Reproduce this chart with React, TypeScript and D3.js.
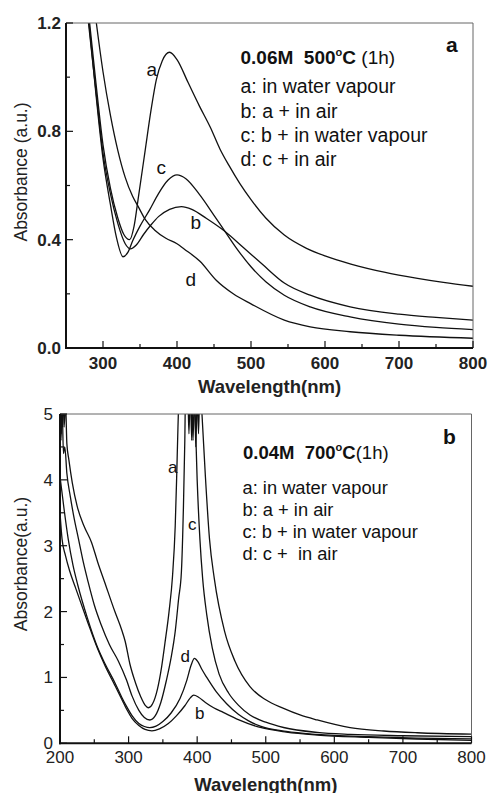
import React from "react";
import * as d3 from "d3";

// ---------- Panel a data (wavelength nm, absorbance) ----------
const aCurveA: [number, number][] = [[270,1.55],[280,1.25],[290,0.99],[300,0.75],[310,0.59],[320,0.48],[328,0.42],[336,0.40],[342,0.45],[348,0.56],[357,0.73],[365,0.88],[372,0.99],[380,1.06],[390,1.092],[400,1.065],[415,0.98],[430,0.895],[445,0.815],[458,0.735],[470,0.675],[485,0.607],[500,0.548],[520,0.48],[545,0.417],[575,0.368],[600,0.34],[635,0.31],[680,0.28],[725,0.257],[760,0.242],[800,0.228]];
const aCurveB: [number, number][] = [[270,1.5],[280,1.21],[290,0.96],[300,0.72],[310,0.57],[320,0.46],[330,0.385],[337,0.366],[345,0.38],[355,0.42],[365,0.455],[375,0.485],[390,0.512],[406,0.522],[420,0.512],[440,0.478],[465,0.43],[490,0.37],[515,0.31],[545,0.24],[580,0.195],[634,0.152],[700,0.125],[750,0.113],[800,0.103]];
const aCurveC: [number, number][] = [[270,1.55],[280,1.23],[290,0.95],[300,0.7],[310,0.53],[318,0.41],[327,0.337],[334,0.355],[340,0.395],[350,0.45],[363,0.51],[375,0.57],[388,0.62],[400,0.639],[412,0.625],[430,0.568],[450,0.49],[465,0.43],[480,0.37],[500,0.3],[520,0.245],[545,0.195],[580,0.152],[634,0.115],[700,0.088],[750,0.076],[800,0.068]];
const aCurveD: [number, number][] = [[270,1.75],[280,1.45],[291,1.2],[300,1.02],[310,0.86],[320,0.73],[330,0.63],[340,0.56],[348,0.52],[357,0.475],[370,0.435],[385,0.405],[400,0.385],[410,0.365],[431,0.32],[453,0.25],[476,0.2],[500,0.163],[545,0.103],[580,0.078],[634,0.06],[700,0.047],[800,0.036]];

// ---------- Panel b data ----------
const bCurveA: [number, number][] = [[200,5.3],[202,4.7],[204,5.4],[206,4.8],[208,5.2],[210,4.55],[213,4.3],[218,3.95],[225,3.6],[235,3.3],[246,3.05],[255,2.75],[265,2.45],[280,2.0],[290,1.72],[295,1.55],[302,1.2],[310,0.92],[318,0.7],[324,0.58],[329,0.54],[335,0.6],[342,0.82],[348,1.15],[353,1.52],[359,2.0],[364,2.53],[368,3.3],[370,4.0],[372,4.8],[374,5.4],[377,5.6],[385,5.6],[392,5.3],[394,4.6],[396,5.4],[398,4.5],[400,5.3],[402,4.7],[404,5.5],[407,5.0],[412,4.05],[418,3.1],[425,2.5],[440,1.7],[455,1.25],[477,0.86],[500,0.66],[526,0.53],[550,0.43],[575,0.354],[623,0.237],[672,0.187],[721,0.16],[800,0.138]];
const bCurveB: [number, number][] = [[200,3.5],[203,3.1],[208,2.85],[214,2.62],[222,2.38],[240,1.85],[255,1.43],[266,1.17],[280,0.88],[290,0.67],[297,0.52],[305,0.38],[315,0.27],[324,0.21],[334,0.19],[345,0.22],[358,0.3],[370,0.42],[382,0.57],[390,0.69],[395,0.73],[402,0.7],[412,0.62],[424,0.54],[438,0.47],[460,0.36],[492,0.24],[530,0.17],[575,0.125],[650,0.09],[720,0.065],[800,0.045]];
const bCurveC: [number, number][] = [[200,5.3],[201.5,4.6],[203,5.2],[205,4.4],[207,4.5],[210,4.1],[215,3.75],[220,3.45],[227,3.1],[234,2.75],[241,2.45],[250,2.1],[260,1.8],[272,1.5],[285,1.25],[297,0.96],[305,0.72],[315,0.5],[323,0.39],[331,0.354],[339,0.42],[347,0.62],[355,0.95],[362,1.3],[368,1.7],[373,2.2],[377,2.6],[380,3.6],[382,4.6],[383,5.3],[386,5.5],[388,4.7],[390,5.4],[392,4.6],[394,5.5],[397,5.0],[400,4.0],[404,3.1],[408,2.5],[414,1.95],[422,1.45],[432,1.05],[446,0.76],[460,0.58],[477,0.43],[500,0.32],[526,0.24],[575,0.165],[623,0.135],[700,0.115],[800,0.1]];
const bCurveD: [number, number][] = [[200,4.05],[206,3.55],[212,3.1],[219,2.7],[226,2.4],[240,1.9],[255,1.45],[266,1.2],[280,0.92],[290,0.7],[297,0.56],[305,0.42],[315,0.3],[323,0.255],[331,0.237],[340,0.26],[350,0.33],[362,0.46],[375,0.68],[385,0.96],[391,1.18],[396,1.29],[401,1.24],[407,1.12],[414,1.0],[428,0.78],[443,0.6],[460,0.44],[475,0.34],[492,0.26],[530,0.18],[575,0.135],[650,0.1],[720,0.08],[800,0.066]];

// ---------- Ticks & text ----------
const aXMajor = [300, 400, 500, 600, 700, 800];
const aXMinor = [350, 450, 550, 650, 750];
const aYMajor = [0, 0.4, 0.8, 1.2];
const aYMinor = [0.2, 0.6, 1.0];
const bXMajor = [200, 300, 400, 500, 600, 700, 800];
const bXMinor = [250, 350, 450, 550, 650, 750];
const bYMajor = [0, 1, 2, 3, 4, 5];
const bYMinor = [0.5, 1.5, 2.5, 3.5, 4.5];

const aLegend = ["a: in water vapour", "b: a + in air", "c: b + in water vapour", "d: c + in air"];
const bLegend = ["a: in water vapour", "b: a + in air", "c: b + in water vapour", "d: c +  in air"];

const FONT = "'Liberation Sans', Arial, Helvetica, sans-serif";

type PanelProps = {
  id: string;
  left: number; right: number; top: number; bottom: number;
  xDomain: [number, number]; yDomain: [number, number];
  xMajor: number[]; xMinor: number[]; yMajor: number[]; yMinor: number[];
  yFmt: (v: number) => string;
  tickBold: boolean;
  curves: [number, number][][];
  xTickBaseline: number; yLabelRight: number;
  xTitleBaseline: number; yTitleX: number; yTitleY: number; yTitle: string;
};

function Panel(p: PanelProps) {
  const x = d3.scaleLinear().domain(p.xDomain).range([p.left, p.right]);
  const y = d3.scaleLinear().domain(p.yDomain).range([p.bottom, p.top]);
  const line = d3.line<[number, number]>().x(d => x(d[0])).y(d => y(d[1])).curve(d3.curveMonotoneX);
  const clipId = "clip-" + p.id;
  const fw = p.tickBold ? "bold" : "normal";
  return (
    <g>
      <defs>
        <clipPath id={clipId}>
          <rect x={p.left} y={p.top} width={p.right - p.left} height={p.bottom - p.top} />
        </clipPath>
      </defs>
      <g clipPath={`url(#${clipId})`}>
        {p.curves.map((c, i) => (
          <path key={i} d={line(c) || ""} fill="none" stroke="#111" strokeWidth={1.3} />
        ))}
      </g>
      {/* frame */}
      <line x1={p.left} x2={p.right} y1={p.top} y2={p.top} stroke="#666" strokeWidth={1} />
      <line x1={p.right} x2={p.right} y1={p.top} y2={p.bottom} stroke="#666" strokeWidth={1} />
      <line x1={p.left} x2={p.left} y1={p.top} y2={p.bottom + 1} stroke="#111" strokeWidth={2} />
      <line x1={p.left - 1} x2={p.right} y1={p.bottom} y2={p.bottom} stroke="#111" strokeWidth={2} />
      {/* ticks */}
      {p.xMajor.map(v => (
        <line key={"xm" + v} x1={x(v)} x2={x(v)} y1={p.bottom} y2={p.bottom - 7} stroke="#111" strokeWidth={1.2} />
      ))}
      {p.xMinor.map(v => (
        <line key={"xn" + v} x1={x(v)} x2={x(v)} y1={p.bottom} y2={p.bottom - 4} stroke="#111" strokeWidth={1.2} />
      ))}
      {p.yMajor.map(v => (
        <line key={"ym" + v} x1={p.left} x2={p.left + 7} y1={y(v)} y2={y(v)} stroke="#111" strokeWidth={1.2} />
      ))}
      {p.yMinor.map(v => (
        <line key={"yn" + v} x1={p.left} x2={p.left + 4} y1={y(v)} y2={y(v)} stroke="#111" strokeWidth={1.2} />
      ))}
      {/* tick labels */}
      {p.xMajor.map(v => (
        <text key={"xl" + v} x={x(v)} y={p.xTickBaseline} textAnchor="middle" fontSize={17} fontWeight={fw} fontFamily={FONT} fill="#222">{v}</text>
      ))}
      {p.yMajor.map(v => (
        <text key={"yl" + v} x={p.yLabelRight} y={y(v) + 6} textAnchor="end" fontSize={17} fontWeight={fw} fontFamily={FONT} fill="#222">{p.yFmt(v)}</text>
      ))}
      {/* axis titles */}
      <text x={(p.left + p.right) / 2} y={p.xTitleBaseline} textAnchor="middle" fontSize={18.5} fontWeight="bold" fontFamily={FONT} fill="#222">Wavelength(nm)</text>
      <text transform={`translate(${p.yTitleX},${p.yTitleY}) rotate(-90)`} textAnchor="middle" fontSize={17.5} fontFamily={FONT} fill="#222">{p.yTitle}</text>
    </g>
  );
}

export default function App() {
  return (
    <svg width={488} height={793} style={{ position: "absolute", left: 0, top: 0, background: "#fff" }} fontFamily={FONT}>
      <rect x={0} y={0} width={488} height={793} fill="#fff" />
      <Panel
        id="a" left={66} right={473} top={23} bottom={348}
        xDomain={[250, 800]} yDomain={[0, 1.2]}
        xMajor={aXMajor} xMinor={aXMinor} yMajor={aYMajor} yMinor={aYMinor}
        yFmt={v => v.toFixed(1)} tickBold={true}
        curves={[aCurveA, aCurveB, aCurveC, aCurveD]}
        xTickBaseline={369} yLabelRight={61}
        xTitleBaseline={393} yTitleX={27} yTitleY={172} yTitle="Absorbance (a.u.)"
      />
      <Panel
        id="b" left={60} right={471.5} top={414} bottom={743.3}
        xDomain={[200, 800]} yDomain={[0, 5]}
        xMajor={bXMajor} xMinor={bXMinor} yMajor={bYMajor} yMinor={bYMinor}
        yFmt={v => String(v)} tickBold={false}
        curves={[bCurveA, bCurveB, bCurveC, bCurveD]}
        xTickBaseline={763} yLabelRight={53}
        xTitleBaseline={791} yTitleX={27} yTitleY={564} yTitle="Absorbance(a.u.)"
      />
      {/* Panel a annotations */}
      <text x={446} y={52} fontSize={21} fontWeight="bold" fill="#111">a</text>
      <text x={240.5} y={63.5} fontSize={19} fill="#111" style={{ whiteSpace: "pre" }}>
        <tspan fontWeight="bold">0.06M  500</tspan>
        <tspan fontWeight="bold" fontSize={11} dy={-8}>o</tspan>
        <tspan fontWeight="bold" dy={8}>C</tspan>
        <tspan> (1h)</tspan>
      </text>
      {aLegend.map((t, i) => (
        <text key={"al" + i} x={240.5} y={93.3 + i * 24.2} fontSize={19.5} fill="#111" style={{ whiteSpace: "pre" }}>{t}</text>
      ))}
      <text x={146.5} y={76} fontSize={19} fill="#111">a</text>
      <text x={156.5} y={173.5} fontSize={19} fill="#111">c</text>
      <text x={190.5} y={228.5} fontSize={19} fill="#111">b</text>
      <text x={185.5} y={286} fontSize={19} fill="#111">d</text>
      {/* Panel b annotations */}
      <text x={443} y={443.5} fontSize={21} fontWeight="bold" fill="#111">b</text>
      <text x={243} y={458.5} fontSize={18.5} fill="#111" style={{ whiteSpace: "pre" }}>
        <tspan fontWeight="bold">0.04M  700</tspan>
        <tspan fontWeight="bold" fontSize={11} dy={-8}>o</tspan>
        <tspan fontWeight="bold" dy={8}>C</tspan>
        <tspan>(1h)</tspan>
      </text>
      {bLegend.map((t, i) => (
        <text key={"bl" + i} x={242.5} y={493.5 + i * 22.3} fontSize={18.3} fill="#111" style={{ whiteSpace: "pre" }}>{t}</text>
      ))}
      <text x={168} y={472.5} fontSize={17} fill="#111">a</text>
      <text x={188} y={529.5} fontSize={17} fill="#111">c</text>
      <text x={180.5} y={661.5} fontSize={17} fill="#111">d</text>
      <text x={195} y={718.5} fontSize={17} fill="#111">b</text>
    </svg>
  );
}
